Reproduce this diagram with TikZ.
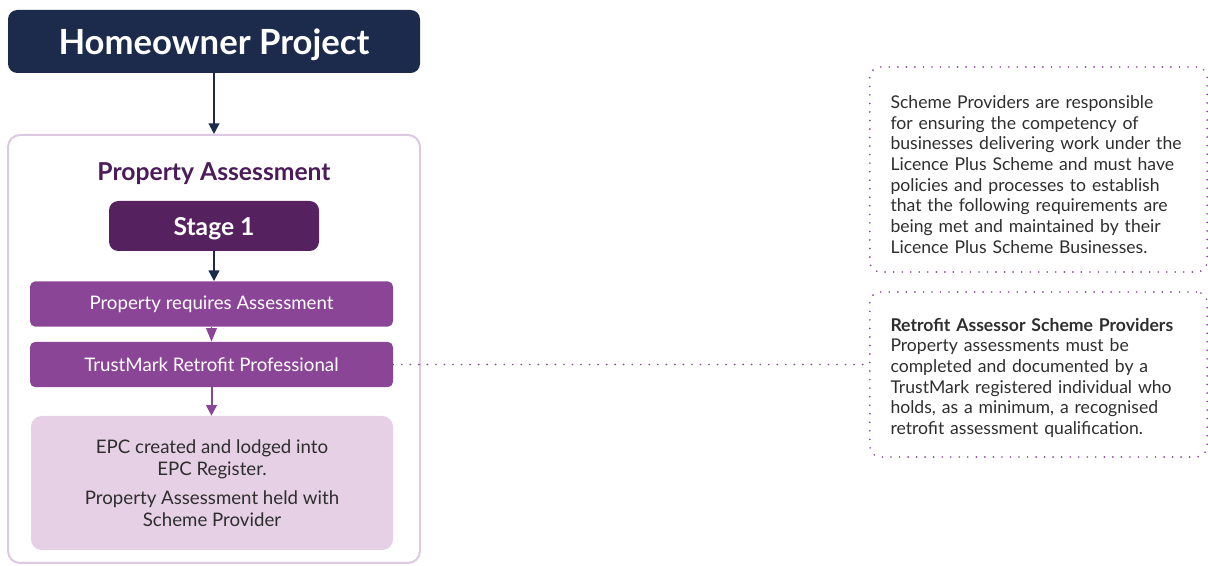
\documentclass[tikz,border=0pt]{standalone}
\usepackage{fontspec}
\setmainfont{Lato}
\usetikzlibrary{arrows.meta,positioning}

\definecolor{navy}{HTML}{1C2A4B}
\definecolor{plum}{HTML}{55215F}
\definecolor{plumtext}{HTML}{4B1B5A}
\definecolor{midpurple}{HTML}{8B4597}
\definecolor{lightpurple}{HTML}{E6D0E6}
\definecolor{paleborder}{HTML}{DDC9E1}
\definecolor{bodytext}{HTML}{2E2E2E}

\begin{document}
\begin{tikzpicture}
[x=0.75pt,y=-0.75pt,
head/.style={rectangle,rounded corners=7pt,fill=navy,text=white,
font=\fontsize{26}{30}\selectfont\bfseries,text depth=0pt,
minimum width=309pt,minimum height=47.25pt},
panel/.style={rectangle,rounded corners=9pt,draw=paleborder,line width=1.5pt,fill=white,
minimum width=309pt,minimum height=321pt},
stagebox/.style={rectangle,rounded corners=7pt,fill=plum,text=white,
font=\fontsize{18.5}{22}\selectfont\bfseries,text depth=0pt,
minimum width=157.5pt,minimum height=37.5pt},
step box/.style={rectangle,rounded corners=4pt,fill=midpurple,text=white,
font=\fontsize{14}{17}\selectfont,
minimum width=272.25pt,minimum height=34pt},
result/.style={rectangle,rounded corners=8pt,fill=lightpurple,text=bodytext,
font=\fontsize{14}{16.5}\selectfont,align=center,
minimum width=271.5pt,minimum height=100.5pt},
note/.style={rectangle,rounded corners=8pt,draw=midpurple,line width=1.4pt,
dash pattern=on 0pt off 6.4pt,line cap=round,
text=bodytext,font=\fontsize{13.2}{15.5}\selectfont,
text width=222pt,align=left,inner xsep=0pt,
minimum width=253pt},
dots/.style={draw=midpurple,line width=1.4pt,dash pattern=on 0pt off 6.4pt,line cap=round},
navy arrow/.style={-{Triangle[width=8pt,length=8pt]},draw=navy,line width=1.5pt},
purple arrow/.style={-{Triangle[width=8pt,length=8pt]},draw=midpurple,line width=1.5pt}]

\useasboundingbox (0,0) rectangle (1208,566);

\node [head] (home) at (214,41.5) {Homeowner Project};
\node [panel] (frame) at (214,349) {};
\node [text=plumtext,font=\fontsize{18.5}{22}\selectfont\bfseries,text depth=0pt] (title) at (214,172)
{Property Assessment};
\node [stagebox] (stage) at (214,226) {Stage 1};
\node [step box] (needs) at (211.5,304) {Property requires Assessment};
\node [step box] (trust) at (211.5,364.5) {TrustMark Retrofit Professional};
\node [result] (epc) at (212,483)
{EPC created and lodged into\\EPC Register.\\[5pt]
Property Assessment held with\\Scheme Provider};

\node [note,minimum height=153.75pt] (duty) at (1038.5,169.5)
{\rule{0pt}{17pt}Scheme Providers are responsible\\
for ensuring the competency of\\
businesses delivering work under the\\
Licence Plus Scheme and must have\\
policies and processes to establish\\
that the following requirements are\\
being met and maintained by their\\
Licence Plus Scheme Businesses.};
\node [note,minimum height=123.75pt] (rasp) at (1038.5,374.5)
{\rule{0pt}{15pt}\textbf{Retrofit Assessor Scheme Providers}\\
Property assessments must be\\
completed and documented by a\\
TrustMark registered individual who\\
holds, as a minimum, a recognised\\
retrofit assessment qualification.};

\draw [navy arrow] (home) -- (frame);
\draw [navy arrow] (stage) -- (stage |- needs.north);
\draw [-{Triangle[width=8pt,length=10pt]},draw=midpurple,line width=0.6pt] (needs) -- (trust);
\draw [purple arrow] (trust) -- (trust |- epc.north);
\draw [dots] (trust.east) -- (trust.east -| rasp.west);
\end{tikzpicture}
\end{document}
